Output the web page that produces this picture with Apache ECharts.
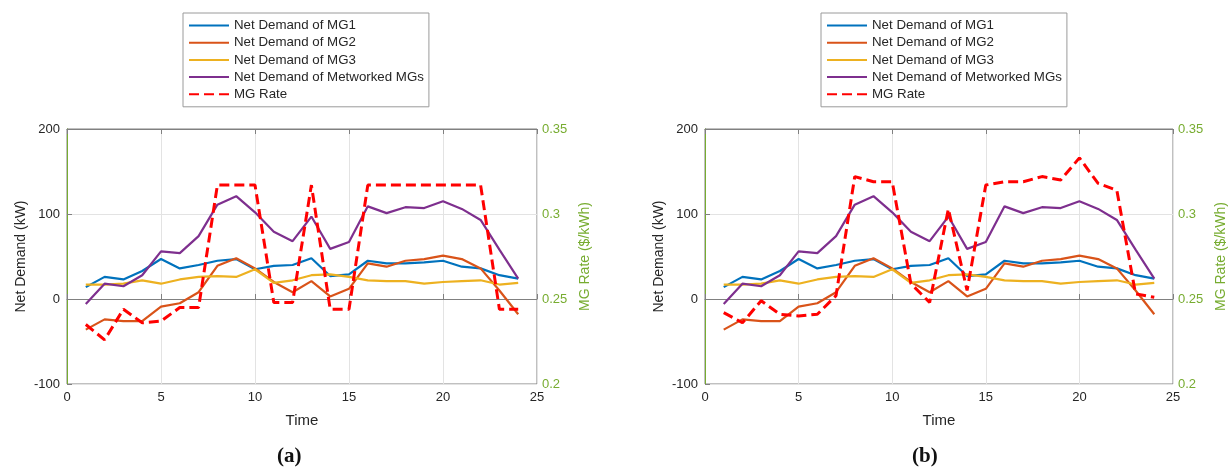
<!DOCTYPE html>
<html>
	<head>
		<meta charset="UTF-8">
		<title>Net Demand and MG Rate</title>
		<style>
			body {
				margin: 0;
				background: white;
			}
			#main {
				width: 1229px;
				height: 470px;
			}
		</style>
	</head>
	<body>
		<div id="main"></div>
		<script type="text/javascript" src="https://cdn.jsdelivr.net/npm/echarts@6/dist/echarts.min.js"></script>
		<script>
			// 数据
			var hours = [1, 2, 3, 4, 5, 6, 7, 8, 9, 10, 11, 12, 13, 14, 15, 16, 17, 18, 19, 20, 21, 22, 23, 24];
			var mg1 = [14, 26, 23, 33, 47, 36, 40, 45, 47, 35, 39, 40, 48, 27, 29, 45, 42, 42, 43, 45, 38, 36, 28, 24];
			var mg2 = [-36, -24, -26, -26, -9, -5, 8, 39, 48, 36, 20, 8, 21, 3, 12, 42, 38, 45, 47, 51, 47, 36, 10, -18];
			var mg3 = [17, 17, 18, 22, 18, 23, 26, 27, 26, 35, 19, 22, 28, 29, 26, 22, 21, 21, 18, 20, 21, 22, 17, 19];
			var mgNet = [-6, 18, 15, 28, 56, 54, 74, 111, 121, 102, 79, 68, 97, 59, 67, 109, 101, 108, 107, 115, 106, 93, 58, 24];
			var rateA = [0.235, 0.226, 0.244, 0.236, 0.237, 0.245, 0.245, 0.317, 0.317, 0.317, 0.248, 0.248, 0.317, 0.244, 0.244, 0.317, 0.317, 0.317, 0.317, 0.317, 0.317, 0.317, 0.244, 0.244];
			var rateB = [0.242, 0.236, 0.249, 0.241, 0.240, 0.241, 0.252, 0.322, 0.319, 0.319, 0.259, 0.248, 0.303, 0.255, 0.317, 0.319, 0.319, 0.322, 0.320, 0.333, 0.318, 0.314, 0.253, 0.251];
			var names = ['Net Demand of MG1', 'Net Demand of MG2', 'Net Demand of MG3', 'Net Demand of Metworked MGs', 'MG Rate'];
			var colors = ['#0072BD', '#D95319', '#EDB120', '#7E2F8E', '#FF0000'];

			var gridLeft = [67, 705];
			var axisGray = '#808080';
			var green = '#77AC30';
			var font = 'Liberation Sans';

			function pairs(arr) {
				var out = [];
				for(var i = 0; i < hours.length; i++) {
					out.push([hours[i], arr[i]]);
				}
				return out;
			}

			var grids = [], xAxes = [], yAxes = [], series = [], legends = [];
			for(var g = 0; g < 2; g++) {
				grids.push({
					left: gridLeft[g],
					top: 129,
					width: 470,
					height: 255,
					show: true,
					borderColor: axisGray,
					borderWidth: 1
				});
				// 下方时间轴
				xAxes.push({
					type: 'value',
					gridIndex: g,
					min: 0,
					max: 25,
					interval: 5,
					name: 'Time',
					nameLocation: 'middle',
					nameGap: 29,
					nameTextStyle: { color: '#262626', fontSize: 15, fontFamily: font },
					axisLine: { lineStyle: { color: axisGray } },
					axisTick: { inside: true, length: 5, lineStyle: { color: axisGray } },
					axisLabel: { color: '#262626', fontSize: 13, fontFamily: font, margin: 7 },
					splitLine: { show: true, lineStyle: { color: '#e3e3e3' } }
				});
				// 上方只画刻度
				xAxes.push({
					type: 'value',
					gridIndex: g,
					position: 'top',
					min: 0,
					max: 25,
					interval: 5,
					axisLine: { lineStyle: { color: axisGray } },
					axisTick: { inside: true, length: 5, lineStyle: { color: axisGray } },
					axisLabel: { show: false },
					splitLine: { show: false }
				});
				yAxes.push({
					type: 'value',
					gridIndex: g,
					position: 'left',
					min: -100,
					max: 200,
					interval: 100,
					name: 'Net Demand (kW)',
					nameLocation: 'middle',
					nameGap: 39,
					nameTextStyle: { color: '#262626', fontSize: 14, fontFamily: font },
					axisLine: { show: true, lineStyle: { color: axisGray } },
					axisTick: { show: true, inside: true, length: 5, lineStyle: { color: axisGray } },
					axisLabel: { color: '#262626', fontSize: 13, fontFamily: font, margin: 7 },
					splitLine: { show: true, lineStyle: { color: '#e3e3e3' } }
				});
				yAxes.push({
					type: 'value',
					gridIndex: g,
					position: 'right',
					min: 0.2,
					max: 0.35,
					interval: 0.05,
					name: 'MG Rate ($/kWh)',
					nameLocation: 'middle',
					nameGap: 41,
					nameRotate: 90,
					nameTextStyle: { color: green, fontSize: 14, fontFamily: font },
					axisLine: { show: true, lineStyle: { color: green } },
					axisTick: { show: false },
					axisLabel: {
						color: green,
						fontSize: 13,
						fontFamily: font,
						margin: 5,
						formatter: function(v) {
							return String(+v.toFixed(2));
						}
					},
					splitLine: { show: false }
				});

				var vals = [mg1, mg2, mg3, mgNet, g == 0 ? rateA : rateB];
				for(var k = 0; k < 5; k++) {
					var isRate = (k == 4);
					series.push({
						name: names[k],
						type: 'line',
						xAxisIndex: g * 2,
						yAxisIndex: g * 2 + (isRate ? 1 : 0),
						data: pairs(vals[k]),
						symbol: 'none',
						color: colors[k],
						lineStyle: {
							color: colors[k],
							width: isRate ? 3 : 2.2,
							type: isRate ? [10, 5] : 'solid'
						},
						animation: false,
						z: isRate ? 3 : 2
					});
				}

				legends.push({
					orient: 'vertical',
					left: 183 + gridLeft[g] - gridLeft[0],
					top: 13,
					itemWidth: 40,
					itemHeight: 14,
					itemGap: 4.2,
					padding: [6, 5],
					borderColor: '#9a9a9a',
					borderWidth: 1,
					backgroundColor: '#fff',
					itemStyle: { opacity: 0 },
					textStyle: { color: '#262626', fontSize: 13.3, fontFamily: font },
					data: names
				});
			}

			var myChart = echarts.init(document.getElementById('main'));
			var option = {
				backgroundColor: '#fff',
				animation: false,
				grid: grids,
				xAxis: xAxes,
				yAxis: yAxes,
				legend: legends,
				series: series,
				graphic: [{
					type: 'text',
					left: 277,
					top: 446,
					style: { text: '(a)', font: 'bold 21px "Liberation Serif"', fill: '#111' }
				}, {
					type: 'text',
					left: 912,
					top: 446,
					style: { text: '(b)', font: 'bold 21px "Liberation Serif"', fill: '#111' }
				}]
			};
			myChart.setOption(option);
		</script>
	</body>
</html>
